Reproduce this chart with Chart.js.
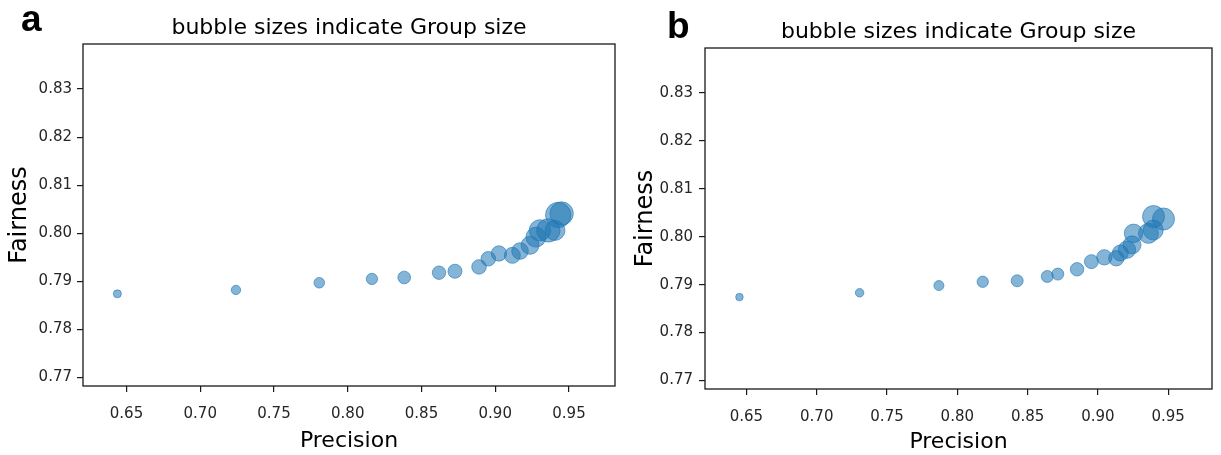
<!DOCTYPE html>
<html><head><meta charset="utf-8">
<script src="https://cdn.jsdelivr.net/npm/chart.js@4.4.1/dist/chart.umd.min.js"></script>
<style>
html,body{margin:0;padding:0;background:#fff;width:1221px;height:455px;overflow:hidden;}
.panel{position:absolute;top:0;height:455px;}
.letter{position:absolute;font-family:"Liberation Sans",Arial,sans-serif;font-weight:bold;font-size:37px;color:#000;line-height:1;}
</style></head><body>
<div class="panel" style="left:0;width:620px"><canvas id="ca" width="620" height="455"></canvas></div>
<div class="panel" style="left:620px;width:601px"><canvas id="cb" width="601" height="455"></canvas></div>
<div class="letter" style="left:21px;top:0px">a</div>
<div class="letter" style="left:667px;top:7px">b</div>
<script>
const titleText = "bubble sizes indicate Group size";
const xLabel = "Precision";
const yLabel = "Fairness";
const xTicks = [0.65, 0.70, 0.75, 0.80, 0.85, 0.90, 0.95];
const yTicks = [0.77, 0.78, 0.79, 0.80, 0.81, 0.82, 0.83];

const precisionA = [0.6438, 0.7242, 0.7807, 0.8164, 0.8383, 0.8619, 0.8727, 0.8890, 0.8953, 0.9025, 0.9116, 0.9168, 0.9236, 0.9276, 0.9303, 0.9360, 0.9405, 0.9427, 0.9450];
const fairnessA  = [0.7874, 0.7882, 0.7897, 0.7905, 0.7908, 0.7918, 0.7921, 0.7930, 0.7947, 0.7958, 0.7954, 0.7963, 0.7975, 0.7992, 0.8006, 0.8006, 0.8006, 0.8038, 0.8041];
const groupSizeA = [16, 22, 28, 32, 40, 45, 49, 53, 53, 59, 64, 69, 81, 100, 114, 137, 100, 161, 137];

const precisionB = [0.6450, 0.7305, 0.7869, 0.8181, 0.8426, 0.8640, 0.8715, 0.8852, 0.8954, 0.9046, 0.9131, 0.9160, 0.9207, 0.9243, 0.9254, 0.9360, 0.9394, 0.9396, 0.9467];
const fairnessB  = [0.7874, 0.7883, 0.7898, 0.7906, 0.7908, 0.7917, 0.7922, 0.7932, 0.7948, 0.7957, 0.7955, 0.7966, 0.7973, 0.7983, 0.8007, 0.8007, 0.8014, 0.8042, 0.8037];
const groupSizeB = [14, 18, 25, 32, 36, 36, 36, 45, 49, 59, 59, 64, 76, 81, 86, 100, 100, 121, 121];

const framePlugin = {
  id: 'frame',
  afterDraw(chart) {
    const {ctx, chartArea: a} = chart;
    ctx.save();
    ctx.strokeStyle = '#1a1a1a';
    ctx.lineWidth = 1.3;
    ctx.strokeRect(a.left, a.top, a.right - a.left, a.bottom - a.top);
    ctx.restore();
  }
};

function makeChart(id, px, fy, sizes, L) {
  const pts = px.map((p, i) => ({x: p, y: fy[i], r: Math.sqrt(sizes[i])}));
  return new Chart(document.getElementById(id), {
    type: 'bubble',
    data: { datasets: [{
      data: pts,
      backgroundColor: 'rgba(31,119,180,0.55)',
      borderColor: 'rgba(31,119,180,0.6)',
      borderWidth: 1
    }]},
    plugins: [framePlugin],
    options: {
      responsive: false,
      animation: false,
      devicePixelRatio: 1,
      layout: { autoPadding: false, padding: { left: 0, right: L.padRight, top: 0, bottom: 0 } },
      plugins: {
        legend: { display: false },
        tooltip: { enabled: false },
        title: {
          display: true, text: titleText, fullSize: false,
          color: '#000',
          font: { family: 'DejaVu Sans', size: 22, weight: 'normal', lineHeight: 1.2 },
          padding: { top: L.titleTop, bottom: 2.8 }
        }
      },
      scales: {
        x: {
          type: 'linear', position: 'bottom',
          min: 0.6205, max: 0.9812,
          afterFit: s => { s.height = L.xHeight; },
          afterBuildTicks: s => { s.ticks = xTicks.map(v => ({value: v})); },
          border: { display: false },
          grid: { drawOnChartArea: false, drawTicks: true, tickLength: 6, color: '#1a1a1a', lineWidth: 1.2 },
          ticks: { color: '#262626', padding: L.xTickPad, font: { family: 'DejaVu Sans', size: 15 },
                   callback: v => Number(v).toFixed(2), maxRotation: 0 },
          title: { display: true, text: xLabel, color: '#000',
                   font: { family: 'DejaVu Sans', size: 22, lineHeight: 1.2 },
                   padding: { top: 0, bottom: L.xTitlePad } }
        },
        y: {
          type: 'linear', position: 'left',
          min: 0.76822, max: 0.83938,
          afterFit: s => { s.width = L.yWidth; },
          afterBuildTicks: s => { s.ticks = yTicks.map(v => ({value: v})); },
          border: { display: false },
          grid: { drawOnChartArea: false, drawTicks: true, tickLength: 6, color: '#1a1a1a', lineWidth: 1.2 },
          ticks: { color: '#262626', padding: L.yTickPad, font: { family: 'DejaVu Sans', size: 15 },
                   callback: v => Number(v).toFixed(2) },
          title: { display: true, text: yLabel, color: '#000',
                   font: { family: 'DejaVu Sans', size: 24, lineHeight: 1.2 },
                   padding: { top: L.yTitlePad, bottom: 0 } }
        }
      }
    }
  });
}

makeChart('ca', precisionA, fairnessA, groupSizeA,
  { padRight: 5, titleTop: 14.8, xHeight: 69, yWidth: 83, xTickPad: 13, yTickPad: 5, xTitlePad: 1, yTitlePad: 5 });
makeChart('cb', precisionB, fairnessB, groupSizeB,
  { padRight: 9, titleTop: 18.8, xHeight: 66, yWidth: 85, xTickPad: 13, yTickPad: 6, xTitlePad: 0, yTitlePad: 11 });
</script>
</body></html>
